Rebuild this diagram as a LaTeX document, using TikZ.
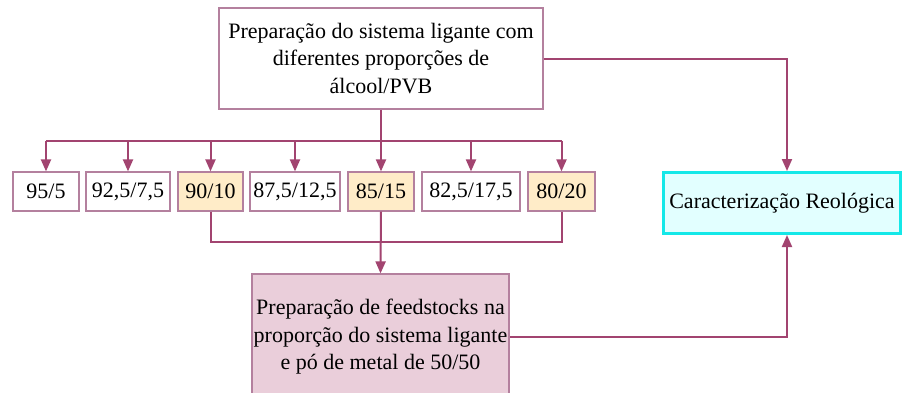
\documentclass[tikz,border=0pt]{standalone}
\usepackage{fontspec}
\setmainfont{Liberation Serif}
\usetikzlibrary{arrows.meta,calc}
\definecolor{conn}{RGB}{162,68,112}
\definecolor{bord}{RGB}{180,128,158}
\definecolor{orfill}{RGB}{255,236,200}
\definecolor{pkfill}{RGB}{234,206,218}
\definecolor{cyb}{RGB}{20,232,232}
\definecolor{cyf}{RGB}{226,255,255}
\tikzset{
  box/.style={draw=bord, line width=1.2pt, fill=white, inner sep=0pt, align=center, font=\fontsize{22}{27.5}\selectfont},
  numbox/.style={box, minimum height=39pt},
  hl/.style={fill=orfill},
  conn/.style={draw=conn, line width=2pt},
  arr/.style={conn, -{Triangle[width=10pt,length=12pt]}},
}
\begin{document}
\begin{tikzpicture}[x=1pt,y=-1pt]
\useasboundingbox (0,0) rectangle (903,392);
\fill[white] (0,0) rectangle (903,392);
\node[box, minimum width=324pt, minimum height=101pt] (top) at (381,58.5) {Preparação do sistema ligante com\\diferentes proporções de\\álcool/PVB};
\node[numbox, minimum width=66pt] (b1) at (46,191.5) {95/5};
\node[numbox, minimum width=84pt] (b2) at (128,191.5) {92,5/7,5};
\node[numbox, hl, minimum width=65pt] (b3) at (210.5,191.5) {90/10};
\node[numbox, minimum width=90pt] (b4) at (295,191.5) {87,5/12,5};
\node[numbox, hl, minimum width=66pt] (b5) at (381,191.5) {85/15};
\node[numbox, minimum width=98pt] (b6) at (471,191.5) {82,5/17,5};
\node[numbox, hl, minimum width=67pt] (b7) at (561.5,191.5) {80/20};
\node[box, fill=pkfill, minimum width=257pt, minimum height=126pt] (bot) at (380.5,337) {Preparação de feedstocks na\\proporção do sistema ligante\\e pó de metal de 50/50};
\node[box, draw=cyb, fill=cyf, line width=3pt, minimum width=237pt, minimum height=61pt] (car) at (782,203) {Caracterização Reológica};
\coordinate (busL) at (46,141);
\coordinate (busR) at (562,141);
\coordinate (lowY) at (0,242);
\draw[conn] (top.south) -- (top.south |- busL);
\draw[conn] (busL) -- (busR);
\foreach \b in {b1,b2,b3,b4,b5,b6,b7} {
  \draw[arr] (\b.north |- busL) -- (\b.north);
}
\draw[conn] (b3.south) -- (b3.south |- lowY) -- (b7.south |- lowY) -- (b7.south);
\draw[arr] (b5.south) -- (bot.north);
\draw[arr] (top.east) -| ([xshift=5pt]car.north);
\draw[arr] (bot.east) -| ([xshift=5pt]car.south);
\end{tikzpicture}
\end{document}
